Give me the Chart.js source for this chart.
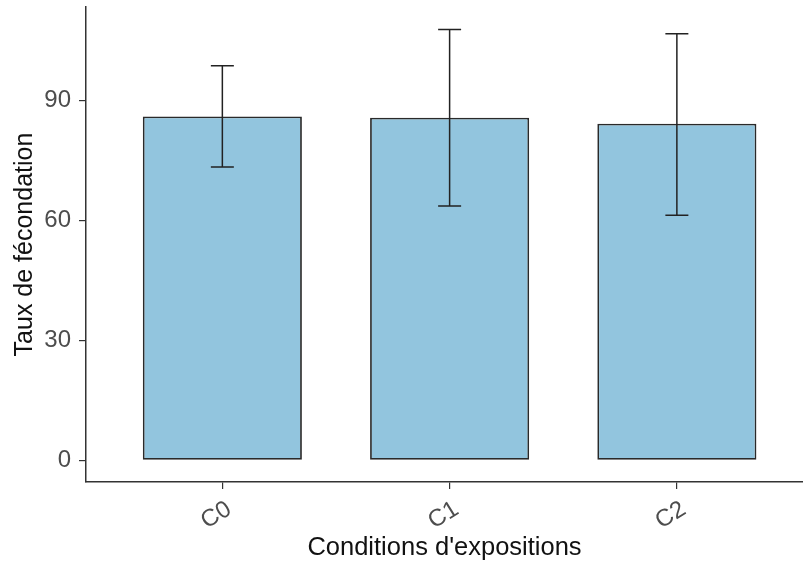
<!DOCTYPE html>
<html lang="fr">
<head>
  <meta charset="UTF-8" />
  <title>Taux de fécondation</title>
  <script src="https://cdn.jsdelivr.net/npm/chart.js"></script>
  <style>
    body { margin: 0; background: #fff; overflow: hidden; }
    canvas { display: block; }
  </style>
</head>
<body>
  <canvas id="chart" width="803" height="565"></canvas>

  <script>
    const conditions = ['C0', 'C1', 'C2'];
    const tauxMoyen = [86.0, 85.7, 84.2];
    const tauxBas = [73.4, 63.6, 61.3];
    const tauxHaut = [98.7, 107.8, 106.7];
    const yTicks = [0, 30, 60, 90];

    const FONT = "'Liberation Sans', Arial, sans-serif";

    // error bars on top of the bars
    const errorBars = {
      id: 'errorBars',
      afterDatasetsDraw(chart) {
        const ctx = chart.ctx;
        const xs = chart.scales.x, ys = chart.scales.y;
        ctx.save();
        ctx.strokeStyle = '#222';
        ctx.lineWidth = 1.5;
        conditions.forEach((c, i) => {
          const px = xs.getPixelForValue(i + 1);
          const lo = ys.getPixelForValue(tauxBas[i]);
          const hi = ys.getPixelForValue(tauxHaut[i]);
          ctx.beginPath();
          ctx.moveTo(px, lo); ctx.lineTo(px, hi);
          ctx.moveTo(px - 11.5, lo); ctx.lineTo(px + 11.5, lo);
          ctx.moveTo(px - 11.5, hi); ctx.lineTo(px + 11.5, hi);
          ctx.stroke();
        });
        ctx.restore();
      }
    };

    new Chart(document.getElementById('chart'), {
      type: 'bar',
      data: {
        datasets: [{
          data: conditions.map((c, i) => ({ x: i + 1, y: tauxMoyen[i] })),
          backgroundColor: '#92C5DE',
          borderColor: '#2a2a2a',
          borderWidth: 1.8,
          borderSkipped: false,
          categoryPercentage: 1,
          barPercentage: 0.7
        }]
      },
      options: {
        responsive: false,
        animation: false,
        layout: { padding: { top: 7, right: 0, bottom: 0, left: 0 } },
        plugins: { legend: { display: false }, tooltip: { enabled: false } },
        scales: {
          x: {
            type: 'linear',
            offset: false,
            min: 0.4,
            max: 3.555,
            afterBuildTicks: s => { s.ticks = conditions.map((c, i) => ({ value: i + 1 })); },
            afterFit: s => { s.height = 83; s.paddingLeft = 0; s.paddingRight = 0; },
            grid: { display: true, offset: false, drawOnChartArea: false, tickLength: 7, color: '#333', lineWidth: 1.2 },
            border: { display: true, color: '#333', width: 1.5 },
            ticks: {
              autoSkip: false,
              minRotation: 32,
              maxRotation: 32,
              padding: 6,
              labelOffset: 7,
              color: '#4D4D4D',
              font: { family: FONT, size: 24 },
              callback: v => conditions[v - 1]
            },
            title: {
              display: true,
              text: "Conditions d'expositions",
              color: '#111',
              font: { family: FONT, size: 25.5 },
              padding: { top: 0, bottom: 2 }
            }
          },
          y: {
            min: -5.4,
            max: 113.4,
            afterBuildTicks: s => { s.ticks = yTicks.map(v => ({ value: v })); },
            afterFit: s => { s.width = 86; s.paddingTop = 0; s.paddingBottom = 0; },
            grid: { display: true, drawOnChartArea: false, tickLength: 7, color: '#333', lineWidth: 1.2 },
            border: { display: true, color: '#333', width: 1.5 },
            ticks: {
              padding: 8,
              color: '#4D4D4D',
              font: { family: FONT, size: 24 }
            },
            title: {
              display: true,
              text: 'Taux de fécondation',
              color: '#111',
              font: { family: FONT, size: 25 },
              padding: { top: 10, bottom: 0 }
            }
          }
        }
      },
      plugins: [errorBars]
    });
  </script>
</body>
</html>
